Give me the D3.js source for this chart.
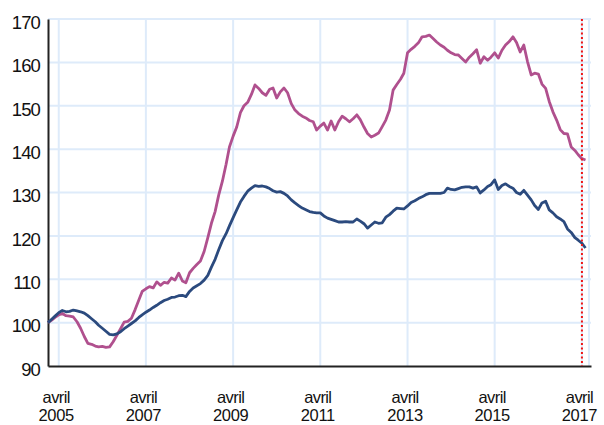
<!DOCTYPE html>
<html>
<head>
<meta charset="utf-8">
<script src="https://cdn.jsdelivr.net/npm/d3@7"></script>
<style>
  body { margin: 0; background: #fff; }
  svg text { font-family: "Liberation Sans", Arial, sans-serif; fill: #111; }
</style>
</head>
<body>
<div id="chart"></div>
<script>
// monthly index values, Jan 2005 .. May 2017
const startMonth = "2005-01";
const pinkSeries = [
  100.0, 100.6, 101.2, 101.8, 102.1, 101.6, 101.5, 101.3, 100.2, 98.7, 96.8, 95.2,
  95.0, 94.6, 94.4, 94.5, 94.3, 94.4, 95.6, 97.1, 98.6, 100.1, 100.3, 101.0,
  103.0, 105.2, 107.2, 107.8, 108.3, 108.0, 109.4, 108.6, 109.3, 109.1, 110.3, 109.8,
  111.4, 109.6, 109.2, 111.5, 112.5, 113.4, 114.2, 116.4, 119.6, 122.9, 125.6, 129.4,
  132.6, 136.5, 140.5, 143.0, 145.1, 148.4, 150.0, 150.8, 152.6, 154.8, 154.0, 153.0,
  152.4, 153.8, 154.1, 151.8, 153.2, 154.1, 153.0, 150.5, 149.0, 148.2, 147.6, 147.2,
  146.6, 146.3, 144.4, 145.3, 146.0, 144.4, 146.5, 144.4, 146.3, 147.6, 147.0, 146.3,
  147.0, 147.9, 146.8, 145.1, 143.6, 142.8, 143.2, 143.7, 145.2, 146.7, 149.0, 153.6,
  154.9, 156.1, 157.5, 162.2, 163.0, 163.7, 164.5, 165.9, 166.0, 166.3, 165.5, 164.7,
  164.0, 163.5, 162.8, 162.2, 161.8, 161.7, 160.9, 160.1, 161.2, 162.0, 162.9, 159.8,
  161.3, 160.5, 161.2, 162.2, 161.0, 162.8, 164.0, 164.8, 165.9, 164.6, 162.4, 164.0,
  160.2, 157.1, 157.5, 157.3, 155.0, 154.0, 151.0, 148.6, 146.7, 144.5, 143.6, 143.5,
  140.5, 139.7, 138.7, 137.8, 137.5
];
const blueSeries = [
  100.0, 100.8, 101.5, 102.3, 102.8, 102.5, 102.6, 102.9, 102.7, 102.5, 102.2, 101.6,
  100.9, 100.2, 99.4, 98.7, 98.0, 97.3, 97.2, 97.4, 97.9, 98.6, 99.2, 99.8,
  100.4, 101.2, 101.8, 102.4, 102.9, 103.5, 104.0, 104.6, 105.1, 105.4, 105.8, 105.9,
  106.2, 106.3, 106.0, 107.2, 108.0, 108.5, 109.0, 109.8, 110.9, 112.8, 114.6, 116.8,
  118.9, 120.5, 122.3, 124.2, 126.0, 127.8, 129.1, 130.3, 131.0, 131.6, 131.4, 131.5,
  131.3, 130.9, 130.4, 130.1, 130.2, 129.8, 129.2, 128.3, 127.6, 127.0, 126.4, 126.0,
  125.6, 125.4, 125.3, 125.3, 124.6, 124.1, 123.8, 123.5, 123.2, 123.2, 123.3, 123.2,
  123.2, 123.9, 123.4, 122.8, 121.8, 122.5, 123.2, 122.9, 123.0, 124.3, 124.9, 125.7,
  126.4, 126.3, 126.2, 126.9, 127.7, 128.1, 128.6, 129.0, 129.5, 129.8, 129.8, 129.8,
  129.8, 130.0, 131.0, 130.7, 130.6, 130.9, 131.2, 131.3, 131.3, 131.0, 131.3, 129.9,
  130.6, 131.4, 131.8, 132.9, 130.7, 131.6, 132.0, 131.4, 131.0, 130.0, 129.6, 130.5,
  129.4, 128.3, 127.0, 126.1, 127.6, 128.0, 126.0, 125.3, 124.4, 123.9, 123.3, 121.6,
  120.8, 119.6, 119.0, 118.3, 117.2
];
const yTicks = [90, 100, 110, 120, 130, 140, 150, 160, 170];
const xTickYears = [2005, 2007, 2009, 2011, 2013, 2015, 2017];
const xTickMonth = "avril";
const markerDate = "2017-04";

const width = 604, height = 425;
const mLeft = 48, mRight = 591, mTop = 19, mBottom = 366;

const parseMonth = d3.utcParse("%Y-%m");
const t0 = parseMonth(startMonth);
const dates = pinkSeries.map((_, i) => d3.utcMonth.offset(t0, i));

const svg = d3.select("#chart").append("svg")
  .attr("width", width).attr("height", height);

const x = d3.scaleUtc()
  .domain([t0, new Date(Date.UTC(2017, 5, 16))])
  .range([mLeft, mRight]);
const y = d3.scaleLinear().domain([90, 170]).range([mBottom, mTop]);

const tickDates = xTickYears.map(yr => new Date(Date.UTC(yr, 3, 1)));

// grid
const grid = svg.append("g").attr("stroke", "#deebfa").attr("stroke-width", 2);
grid.selectAll(".hg").data(yTicks.filter(v => v > 90)).enter().append("line")
  .attr("x1", mLeft).attr("x2", mRight).attr("y1", d => y(d)).attr("y2", d => y(d));
grid.selectAll(".vg").data(tickDates).enter().append("line")
  .attr("x1", d => x(d)).attr("x2", d => x(d)).attr("y1", mTop).attr("y2", mBottom);
grid.append("line").attr("x1", mRight - 2).attr("x2", mRight - 2).attr("y1", mTop).attr("y2", mBottom);

// y axis
const yAxis = svg.append("g").attr("transform", `translate(${mLeft},0)`)
  .call(d3.axisLeft(y).tickValues(yTicks).tickSize(0).tickPadding(8));
yAxis.select(".domain").attr("stroke", "#222").attr("stroke-width", 2);
yAxis.selectAll("text")
  .attr("dy", "0.5em")
  .style("font-size", "18.5px").style("letter-spacing", "-0.9px").attr("fill", "#111");

// x axis: two-line labels, month over year
const xAxis = svg.append("g").attr("transform", `translate(0,${mBottom})`)
  .call(d3.axisBottom(x).tickValues(tickDates).tickSize(0).tickFormat(""));
xAxis.select(".domain").attr("stroke", "#222").attr("stroke-width", 2);
xAxis.selectAll(".tick").append("text")
  .attr("text-anchor", "middle").attr("fill", "#111").attr("x", -3).attr("y", 36.5)
  .style("font-size", "16.5px").style("letter-spacing", "-0.6px")
  .text(xTickMonth);
xAxis.selectAll(".tick").append("text")
  .attr("text-anchor", "middle").attr("fill", "#111").attr("x", -3).attr("y", 55)
  .style("font-size", "16.5px").style("letter-spacing", "-0.3px")
  .text(d => d.getUTCFullYear());

// series
const line = d3.line().x((d, i) => x(dates[i])).y(d => y(d));
svg.append("path").datum(pinkSeries)
  .attr("fill", "none").attr("stroke", "#b0508e").attr("stroke-width", 2.8)
  .attr("stroke-linejoin", "round").attr("d", line);
svg.append("path").datum(blueSeries)
  .attr("fill", "none").attr("stroke", "#2b4a7e").attr("stroke-width", 2.8)
  .attr("stroke-linejoin", "round").attr("d", line);

// marker line
const mx = x(parseMonth(markerDate));
svg.append("line")
  .attr("x1", mx).attr("x2", mx).attr("y1", mTop).attr("y2", mBottom)
  .attr("stroke", "#f01414").attr("stroke-width", 2).attr("stroke-dasharray", "2,2.5");
</script>
</body>
</html>
